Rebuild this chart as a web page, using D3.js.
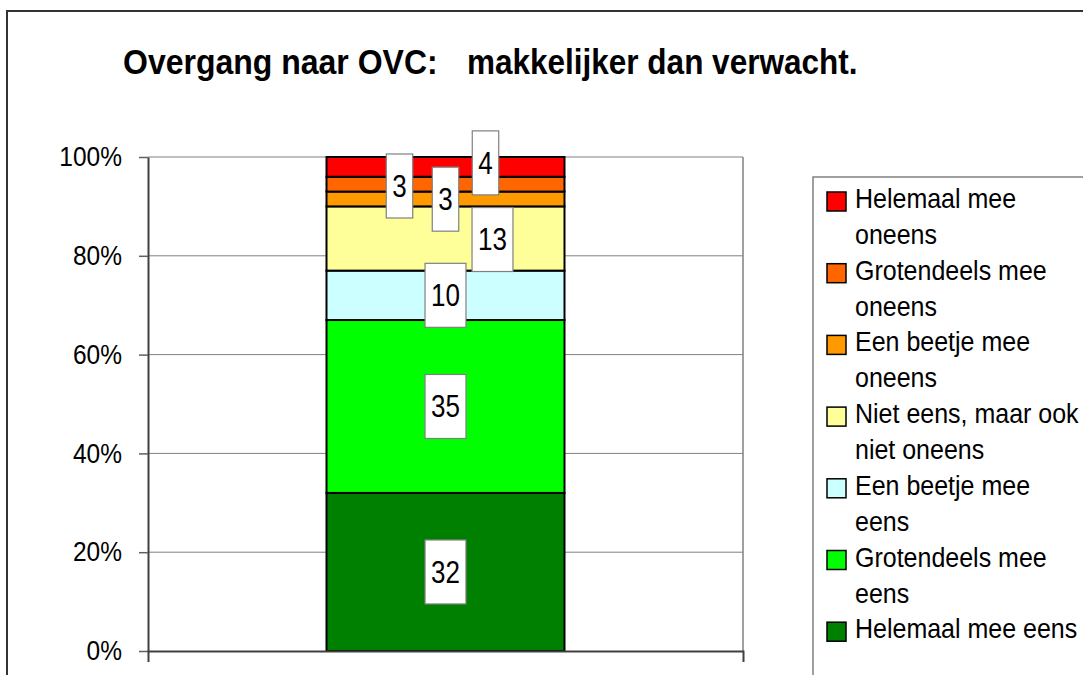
<!DOCTYPE html>
<html>
<head>
<meta charset="utf-8">
<script src="https://cdn.jsdelivr.net/npm/d3@7"></script>
<style>
  body { margin: 0; background: #fff; }
  text { font-family: "Liberation Sans", Arial, sans-serif; }
</style>
</head>
<body>
<svg id="chart" width="1083" height="675"></svg>
<script>
const categories = ["OVC"]
const seriesNames = [
  "Helemaal mee eens",
  "Grotendeels mee\neens",
  "Een beetje mee\neens",
  "Niet eens, maar ook\nniet oneens",
  "Een beetje mee\noneens",
  "Grotendeels mee\noneens",
  "Helemaal mee\noneens"
]
const seriesValues = [32, 35, 10, 13, 3, 3, 4]
const seriesColors = ["#008000", "#00ff00", "#ccffff", "#ffff99", "#ff9900", "#ff6600", "#ff0000"]
const yTicks = [0, 20, 40, 60, 80, 100]
const titleParts = ["Overgang naar OVC:", "makkelijker dan verwacht."]

// data labels were dragged around by hand in the original, so nudge them (px)
const labelNudge = [[0, 0], [0, 0], [0, 0], [47, 1], [-46, -13], [0, 15], [40, -4]]

const svg = d3.select("#chart")

// outer chart border
svg.append("rect")
  .attr("x", 7).attr("y", 11)
  .attr("width", 1200).attr("height", 800)
  .attr("fill", "none")
  .attr("stroke", "#333").attr("stroke-width", 2)

// title (two pieces, wide gap after the colon)
svg.append("text")
  .attr("transform", "translate(123,74) scale(1,1.1)")
  .attr("font-size", 32).attr("font-weight", "bold")
  .text(titleParts[0])
svg.append("text")
  .attr("transform", "translate(467,74) scale(1,1.1)")
  .attr("font-size", 31.5).attr("font-weight", "bold")
  .text(titleParts[1])

const y = d3.scaleLinear().domain([0, 100]).range([651, 157])
const x = d3.scaleBand().domain(categories).range([148, 743])
  .paddingInner(0).paddingOuter(0.75)

// gridlines
svg.append("g")
  .selectAll("line")
  .data(yTicks.filter(d => d > 0))
  .enter().append("line")
    .attr("x1", 148).attr("x2", 743)
    .attr("y1", d => y(d)).attr("y2", d => y(d))
    .attr("stroke", "#808080").attr("stroke-width", 1)

// plot area right edge
svg.append("line")
  .attr("x1", 743).attr("x2", 743)
  .attr("y1", y(100)).attr("y2", y(0))
  .attr("stroke", "#808080").attr("stroke-width", 1.5)

// stacked bar
const tops = d3.cumsum(seriesValues)
const segs = seriesValues.map((v, i) => ({ i: i, v: v, y0: tops[i] - v, y1: tops[i] }))

svg.append("g")
  .selectAll("rect")
  .data(segs)
  .enter().append("rect")
    .attr("x", x(categories[0]))
    .attr("width", x.bandwidth())
    .attr("y", d => y(d.y1))
    .attr("height", d => y(d.y0) - y(d.y1))
    .attr("fill", d => seriesColors[d.i])
    .attr("stroke", "#000").attr("stroke-width", 2)

// y axis
const yAxis = svg.append("g")
  .attr("transform", "translate(148,0)")
  .call(d3.axisLeft(y).tickValues(yTicks).tickFormat(d => d + "%")
    .tickSizeInner(9).tickSizeOuter(0).tickPadding(17))
yAxis.select(".domain").attr("stroke", "#404040").attr("stroke-width", 2)
yAxis.selectAll(".tick line").attr("stroke", "#606060").attr("stroke-width", 1.5)
yAxis.selectAll(".tick text")
  .attr("font-size", 24.5).attr("fill", "#000")
  .attr("transform", "scale(1,1.1)")
  .style("font-family", "'Liberation Sans', Arial, sans-serif")

// x axis: only the category boundary ticks, no labels
const xAxis = svg.append("g")
  .attr("transform", "translate(0," + y(0) + ")")
  .call(d3.axisBottom(x).tickSizeInner(0).tickSizeOuter(11).tickFormat(""))
xAxis.select(".domain").attr("stroke", "#404040").attr("stroke-width", 2)
xAxis.selectAll(".tick").remove()

// data labels
const labels = svg.append("g")
  .selectAll("g")
  .data(segs)
  .enter().append("g")
    .attr("transform", d => {
      const cx = x(categories[0]) + x.bandwidth() / 2 + labelNudge[d.i][0]
      const cy = (y(d.y0) + y(d.y1)) / 2 + labelNudge[d.i][1]
      return "translate(" + cx + "," + cy + ")"
    })

labels.append("text")
  .attr("text-anchor", "middle")
  .attr("dominant-baseline", "central")
  .attr("font-size", 26)
  .attr("transform", "scale(1,1.22)")
  .text(d => d.v)

labels.each(function() {
  const g = d3.select(this)
  const w = g.select("text").node().getBBox().width + 12
  g.insert("rect", "text")
    .attr("x", -w / 2).attr("y", -32)
    .attr("width", w).attr("height", 64)
    .attr("fill", "#fff")
    .attr("stroke", "#808080").attr("stroke-width", 1.2)
})

// legend
svg.append("rect")
  .attr("x", 813).attr("y", 177)
  .attr("width", 400).attr("height", 600)
  .attr("fill", "#fff")
  .attr("stroke", "#808080").attr("stroke-width", 1.5)

const legendOrder = d3.range(seriesNames.length).reverse()
const legendItems = svg.append("g")
  .selectAll("g")
  .data(legendOrder)
  .enter().append("g")
    .attr("transform", (d, k) => "translate(827," + (192 + k * 71.7) + ")")

legendItems.append("rect")
  .attr("width", 19).attr("height", 19)
  .attr("fill", d => seriesColors[d])
  .attr("stroke", "#000").attr("stroke-width", 1.5)

legendItems.selectAll("text")
  .data(d => seriesNames[d].split("\n"))
  .enter().append("text")
    .attr("transform", (t, j) => "translate(28," + (16 + j * 36) + ") scale(1,1.1)")
    .attr("font-size", 25)
    .text(t => t)
</script>
</body>
</html>
